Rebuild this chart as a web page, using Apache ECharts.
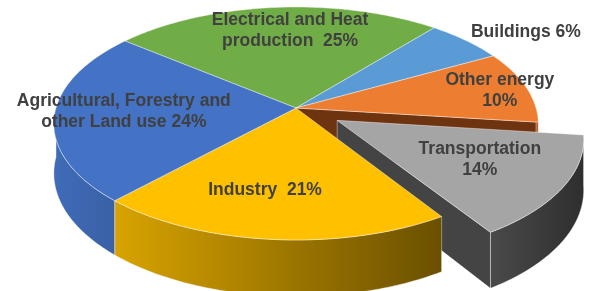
<!DOCTYPE html>
<html>
<head>
<meta charset="utf-8">
<script src="https://cdn.jsdelivr.net/npm/echarts@6/dist/echarts.min.js"></script>
<style>
  html, body { margin: 0; background: #fff; }
  #chart { width: 590px; height: 291px; }
</style>
</head>
<body>
<div id="chart"></div>
<script>
// data
const categories = ['Electrical and Heat\nproduction', 'Buildings', 'Other energy', 'Transportation', 'Industry', 'Agricultural, Forestry and\nother Land use'];
const values     = [25, 6, 10, 14, 21, 24];
const labelJoin  = ['  ', ' ', '\n', '\n', '  ', ' '];

// look
const topColors  = ['#70AD47', '#5B9BD5', '#ED7D31', '#A5A5A5', '#FFC000', '#4472C4'];
const wallColors = [['#5a8c39', '#40662a'], ['#4a80b2', '#3a6590'], ['#c4621f', '#8a4315'],
                    ['#4a4a4a', '#2e2e2e'], ['#d8a300', '#6a4f00'], ['#3f6bb8', '#3a61a6']];
const cutColors  = ['#4c7a30', '#3f6f99', '#6e3410', '#444444', '#8a6800', '#2f5597'];
const explode    = [0, 0, 0, 0.2, 0, 0];
const labelR     = [0.74, 1.28, 0.88, 0.64, 0.665, 0.715];
const labelShift = [-3.5, -5, -1, 2, -5, -1];

// 3D-ish projection of the unit disc
const startDeg = 140.6;
const cx = 296, cy = 108, rx = 240, ry = 114.4, persp = 0.133, depth = 49;
const total = values.reduce((a, b) => a + b, 0);
const rad = (d) => d * Math.PI / 180;

function proj(u, v, z) {
    const f = 1 / (1 + persp * v);
    return [cx + rx * u * f, cy - ry * v * f + depth * z * f];
}

function sliceAngles(i) {
    let before = 0;
    for (let j = 0; j < i; j++) before += values[j];
    const a0 = startDeg - before / total * 360;
    return [a0, a0 - values[i] / total * 360];
}

function arc(from, to, du, dv, z) {
    const pts = [];
    const n = Math.max(2, Math.ceil(Math.abs(to - from)));
    for (let s = 0; s <= n; s++) {
        const t = rad(from + (to - from) * s / n);
        pts.push(proj(Math.cos(t) + du, Math.sin(t) + dv, z));
    }
    return pts;
}

// parts of [lo, hi] that face the viewer (lower half of the disc)
function frontParts(lo, hi) {
    const out = [];
    for (let n = -2; n <= 2; n++) {
        const s = Math.max(lo, -180 + 360 * n), e = Math.min(hi, 360 * n);
        if (e > s) out.push([s, e]);
    }
    return out;
}

function renderItem(params, api) {
    const i = params.dataIndex;
    const n = values.length;
    const [a0, a1] = sliceAngles(i);
    const mid = rad((a0 + a1) / 2);
    const ex = explode[i];
    const du = ex * Math.cos(mid), dv = ex * Math.sin(mid);
    const lifted = ex > 0;
    const behind = Math.sin(mid) > 0;
    const edge = { stroke: 'rgba(255,255,255,0.5)', lineWidth: 0.8 };
    const children = [];

    // cut faces next to an exploded slice
    const prev = (i - 1 + n) % n, next = (i + 1) % n;
    [[a0, explode[prev] > 0, Math.cos(rad(a0)) < 0],
     [a1, explode[next] > 0, Math.cos(rad(a1)) > 0]].forEach(([a, nbr, vis]) => {
        if (!vis || !(lifted || nbr)) return;
        const t = rad(a);
        const u = Math.cos(t) + du, v = Math.sin(t) + dv;
        children.push({
            type: 'polygon', z2: lifted ? 2 : 1,
            shape: { points: [proj(du, dv, 0), proj(u, v, 0), proj(u, v, 1), proj(du, dv, 1)] },
            style: Object.assign({ fill: cutColors[i] }, edge)
        });
    });

    // outer wall
    frontParts(a1, a0).forEach(([s, e]) => {
        children.push({
            type: 'polygon', z2: lifted ? 2 : (behind ? 1 : 4),
            shape: { points: arc(s, e, du, dv, 0).concat(arc(e, s, du, dv, 1)) },
            style: Object.assign({
                fill: new echarts.graphic.LinearGradient(0, 0, 1, 0, [
                    { offset: 0, color: wallColors[i][0] },
                    { offset: 1, color: wallColors[i][1] }
                ])
            }, edge)
        });
    });

    // top face
    children.push({
        type: 'polygon', z2: lifted ? 3 : 5,
        shape: { points: [proj(du, dv, 0)].concat(arc(a0, a1, du, dv, 0)) },
        style: Object.assign({ fill: topColors[i] }, edge)
    });

    // label
    const la = mid + rad(labelShift[i]);
    const lp = proj(labelR[i] * Math.cos(la) + du, labelR[i] * Math.sin(la) + dv, 0);
    children.push({
        type: 'text', z2: 10,
        style: {
            text: categories[i] + labelJoin[i] + api.value(0) + '%',
            x: lp[0], y: lp[1],
            align: 'center', verticalAlign: 'middle',
            font: 'bold 17.5px "Liberation Sans", Arial, sans-serif',
            lineHeight: 21,
            fill: '#404040'
        }
    });

    return { type: 'group', children };
}

const chart = echarts.init(document.getElementById('chart'), null, { renderer: 'canvas' });
chart.setOption({
    animation: false,
    series: [{
        type: 'custom',
        coordinateSystem: 'none',
        renderItem,
        data: values.map((v, i) => ({ name: categories[i], value: [v, i] }))
    }]
});
</script>
</body>
</html>
